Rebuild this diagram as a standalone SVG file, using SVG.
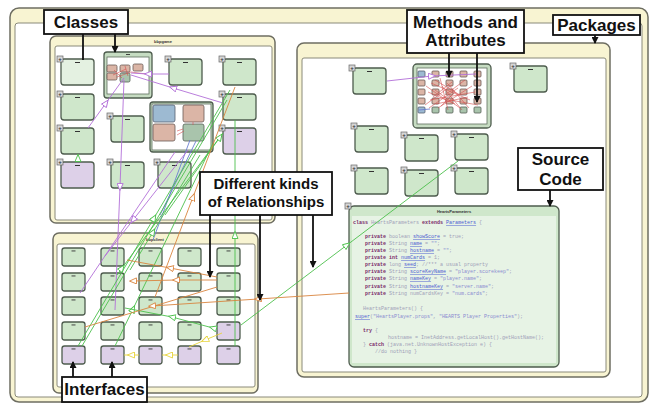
<svg xmlns="http://www.w3.org/2000/svg" width="654" height="407" viewBox="0 0 654 407">
<defs>
<style>
.band{fill:#f8f4d2;stroke:#6e6e62;stroke-width:1.5}
.inner{fill:#fff;stroke:#8a8a7a;stroke-width:1}
.n{fill:#cfe7cb;stroke:#4e5c4e;stroke-width:1.3}
.np{fill:#ddd0e8;stroke:#4e5c4e;stroke-width:1.3}
.nl{fill:#e4f1e1;stroke:#4e5c4e;stroke-width:1.3}
.cf{fill:#c6dcc2;stroke:#4e5c4e;stroke-width:1.3}
.ci{fill:#fff;stroke:#5e6e5e;stroke-width:0.8}
.sp{fill:#dbb5a6;stroke:#6a5a55;stroke-width:0.8}
.sb{fill:#9dbad2;stroke:#556070;stroke-width:0.8}
.sg{fill:#a9c4ac;stroke:#556055;stroke-width:0.8}
.pb{fill:#d6d6d6;stroke:#666;stroke-width:0.7}
.pt{font:bold 6px 'Liberation Sans',Arial,sans-serif;fill:#333;text-anchor:middle}
.mk{fill:#333}
.tt{font:bold 4px 'Liberation Sans',Arial,sans-serif;fill:#333;text-anchor:middle}
.cb{fill:#fff;stroke:#111;stroke-width:1.8}
.ct{font:bold 17px 'Liberation Sans',Arial,sans-serif;fill:#111;text-anchor:middle}
.ca{stroke:#111;stroke-width:1.8;fill:none;marker-end:url(#ah)}
.c{fill:none;stroke-width:0.9}
.pu{stroke:#b26fd8;marker-mid:url(#tpu)}
.bl{stroke:#6b7fd0}
.gr{stroke:#4cc04c;marker-mid:url(#tgr)}
.or{stroke:#d9843e;marker-mid:url(#tor)}
.ye{stroke:#e6d33c;marker-mid:url(#tye)}
.rd{fill:none;stroke:#d45050;stroke-width:0.6}
.code{font:5px 'Liberation Mono','Courier New',monospace;fill:#a0a0b8}
.kw{fill:#7a2a6a;font-weight:bold}
.ln{fill:#4a5ad0;text-decoration:underline}
.str{fill:#8a8ad0}
</style>
<marker id="ah" viewBox="0 0 7 7" refX="6" refY="3.5" markerWidth="7" markerHeight="7" markerUnits="userSpaceOnUse" orient="auto"><path d="M0,0 L7,3.5 L0,7 z" fill="#111"/></marker>
<marker id="tpu" viewBox="0 0 8 7" refX="4" refY="3.5" markerWidth="8" markerHeight="7" markerUnits="userSpaceOnUse" orient="auto"><path d="M0.5,0.5 L7.5,3.5 L0.5,6.5 z" fill="#fff" stroke="#b26fd8" stroke-width="0.9"/></marker>
<marker id="tgr" viewBox="0 0 8 7" refX="4" refY="3.5" markerWidth="8" markerHeight="7" markerUnits="userSpaceOnUse" orient="auto"><path d="M0.5,0.5 L7.5,3.5 L0.5,6.5 z" fill="#fff" stroke="#4cc04c" stroke-width="0.9"/></marker>
<marker id="tor" viewBox="0 0 8 7" refX="4" refY="3.5" markerWidth="8" markerHeight="7" markerUnits="userSpaceOnUse" orient="auto"><path d="M0.5,0.5 L7.5,3.5 L0.5,6.5 z" fill="#fff" stroke="#d9843e" stroke-width="0.9"/></marker>
<marker id="tye" viewBox="0 0 8 7" refX="4" refY="3.5" markerWidth="8" markerHeight="7" markerUnits="userSpaceOnUse" orient="auto"><path d="M0.5,0.5 L7.5,3.5 L0.5,6.5 z" fill="#fff" stroke="#e6d33c" stroke-width="0.9"/></marker>
</defs>
<rect width="654" height="407" fill="#fff"/>

<g id="frame">
<rect class="band" x="10" y="8" width="638" height="394" rx="9"/>
<rect class="inner" x="15" y="23" width="627" height="374" rx="3"/>
</g>

<g id="pkg-top-left">
<rect class="band" x="50" y="36" width="225" height="187" rx="6"/>
<rect class="inner" x="55" y="46" width="217" height="174" rx="2"/>
<text class="tt" x="163" y="43">bbpgame</text>
</g>
<g id="pkg-bottom-left">
<rect class="band" x="53" y="233" width="205" height="160" rx="6"/>
<rect class="inner" x="57" y="244" width="198" height="143" rx="2"/>
<text class="tt" x="155" y="241">bbpclient</text>
</g>
<g id="pkg-right">
<rect class="band" x="297" y="43" width="313" height="334" rx="7"/>
<rect class="inner" x="302" y="58" width="304" height="314" rx="2"/>
</g>

<!-- top-left package nodes -->
<g id="node-a"><rect class="nl" x="61" y="59" width="33" height="26" rx="3"/><rect class="mk" x="75" y="62" width="5" height="1"/><rect class="pb" x="57" y="56" width="6" height="6"/><text class="pt" x="60" y="61">+</text></g>
<g id="node-c"><rect class="n" x="169" y="59" width="33" height="26" rx="3"/><rect class="mk" x="183" y="62" width="5" height="1"/><rect class="pb" x="165" y="56" width="6" height="6"/><text class="pt" x="168" y="61">+</text></g>
<g id="node-d"><rect class="n" x="223" y="59" width="33" height="26" rx="3"/><rect class="mk" x="237" y="62" width="5" height="1"/><rect class="pb" x="219" y="56" width="6" height="6"/><text class="pt" x="222" y="61">+</text></g>
<g id="node-e"><rect class="n" x="61" y="94" width="33" height="26" rx="3"/><rect class="mk" x="75" y="97" width="5" height="1"/><rect class="pb" x="57" y="91" width="6" height="6"/><text class="pt" x="60" y="96">+</text></g>
<g id="node-f"><rect class="n" x="111" y="116" width="33" height="26" rx="3"/><rect class="mk" x="125" y="119" width="5" height="1"/><rect class="pb" x="107" y="113" width="6" height="6"/><text class="pt" x="110" y="118">+</text></g>
<g id="node-h"><rect class="n" x="223" y="94" width="33" height="26" rx="3"/><rect class="mk" x="237" y="97" width="5" height="1"/><rect class="pb" x="219" y="91" width="6" height="6"/><text class="pt" x="222" y="96">+</text></g>
<g id="node-i"><rect class="n" x="61" y="128" width="33" height="26" rx="3"/><rect class="mk" x="75" y="131" width="5" height="1"/><rect class="pb" x="57" y="125" width="6" height="6"/><text class="pt" x="60" y="130">+</text></g>
<g id="node-j"><rect class="np" x="223" y="128" width="33" height="26" rx="3"/><rect class="mk" x="237" y="131" width="5" height="1"/><rect class="pb" x="219" y="125" width="6" height="6"/><text class="pt" x="222" y="130">+</text></g>
<g id="node-k"><rect class="np" x="61" y="162" width="33" height="26" rx="3"/><rect class="mk" x="75" y="165" width="5" height="1"/><rect class="pb" x="57" y="159" width="6" height="6"/><text class="pt" x="60" y="164">+</text></g>
<g id="node-l"><rect class="n" x="111" y="162" width="33" height="26" rx="3"/><rect class="mk" x="125" y="165" width="5" height="1"/><rect class="pb" x="107" y="159" width="6" height="6"/><text class="pt" x="110" y="164">+</text></g>
<g id="node-m"><rect class="n" x="158" y="162" width="33" height="26" rx="3"/><rect class="mk" x="172" y="165" width="5" height="1"/><rect class="pb" x="154" y="159" width="6" height="6"/><text class="pt" x="157" y="164">+</text></g>
<g id="node-b">
<rect class="cf" x="104" y="52" width="48" height="46" rx="3"/><rect class="ci" x="107" y="57" width="42" height="37"/><rect class="mk" x="126" y="54" width="4" height="0.9"/>
<rect class="sp" x="107" y="65" width="10" height="7" rx="1.5"/><rect class="sp" x="120" y="65" width="10" height="7" rx="1.5"/><rect class="sp" x="133" y="64" width="10" height="7" rx="1.5"/>
<rect class="sp" x="107" y="73" width="10" height="7" rx="1.5"/><rect class="sg" x="120" y="73" width="10" height="9" rx="1.5"/>
</g>
<g id="node-g">
<rect class="cf" x="150" y="102" width="63" height="50" rx="3"/><rect class="ci" x="152" y="104" width="59" height="46"/>
<rect class="sb" x="153" y="105" width="22" height="17" rx="2"/><rect class="sp" x="183" y="105" width="21" height="17" rx="2"/>
<rect class="sp" x="153" y="124" width="22" height="17" rx="2"/><rect class="sg" x="183" y="124" width="21" height="17" rx="2"/>
</g>

<!-- bottom-left package nodes -->
<g id="b11"><rect class="n" x="62" y="248" width="23" height="18" rx="2.5"/><rect class="mk" x="71.5" y="250.5" width="4" height="0.9"/></g>
<g id="b12"><rect class="n" x="101" y="248" width="23" height="18" rx="2.5"/><rect class="mk" x="110.5" y="250.5" width="4" height="0.9"/></g>
<g id="b13"><rect class="n" x="139" y="248" width="23" height="18" rx="2.5"/><rect class="mk" x="148.5" y="250.5" width="4" height="0.9"/></g>
<g id="b14"><rect class="n" x="178" y="248" width="23" height="18" rx="2.5"/><rect class="mk" x="187.5" y="250.5" width="4" height="0.9"/></g>
<g id="b15"><rect class="n" x="217" y="248" width="23" height="18" rx="2.5"/><rect class="mk" x="226.5" y="250.5" width="4" height="0.9"/></g>
<g id="b21"><rect class="n" x="62" y="273" width="23" height="18" rx="2.5"/><rect class="mk" x="71.5" y="275.5" width="4" height="0.9"/></g>
<g id="b22"><rect class="n" x="101" y="273" width="23" height="18" rx="2.5"/><rect class="mk" x="110.5" y="275.5" width="4" height="0.9"/></g>
<g id="b23"><rect class="n" x="139" y="273" width="23" height="18" rx="2.5"/><rect class="mk" x="148.5" y="275.5" width="4" height="0.9"/></g>
<g id="b24"><rect class="n" x="178" y="273" width="23" height="18" rx="2.5"/><rect class="mk" x="187.5" y="275.5" width="4" height="0.9"/></g>
<g id="b25"><rect class="n" x="217" y="273" width="23" height="18" rx="2.5"/><rect class="mk" x="226.5" y="275.5" width="4" height="0.9"/></g>
<g id="b31"><rect class="n" x="62" y="297" width="23" height="18" rx="2.5"/><rect class="mk" x="71.5" y="299.5" width="4" height="0.9"/></g>
<g id="b32"><rect class="n" x="101" y="297" width="23" height="18" rx="2.5"/><rect class="mk" x="110.5" y="299.5" width="4" height="0.9"/></g>
<g id="b33"><rect class="n" x="139" y="297" width="23" height="18" rx="2.5"/><rect class="mk" x="148.5" y="299.5" width="4" height="0.9"/></g>
<g id="b34"><rect class="n" x="178" y="297" width="23" height="18" rx="2.5"/><rect class="mk" x="187.5" y="299.5" width="4" height="0.9"/></g>
<g id="b35"><rect class="n" x="217" y="297" width="23" height="18" rx="2.5"/><rect class="mk" x="226.5" y="299.5" width="4" height="0.9"/></g>
<g id="b41"><rect class="n" x="62" y="322" width="23" height="18" rx="2.5"/><rect class="mk" x="71.5" y="324.5" width="4" height="0.9"/></g>
<g id="b42"><rect class="n" x="101" y="322" width="23" height="18" rx="2.5"/><rect class="mk" x="110.5" y="324.5" width="4" height="0.9"/></g>
<g id="b43"><rect class="n" x="139" y="322" width="23" height="18" rx="2.5"/><rect class="mk" x="148.5" y="324.5" width="4" height="0.9"/></g>
<g id="b44"><rect class="n" x="178" y="322" width="23" height="18" rx="2.5"/><rect class="mk" x="187.5" y="324.5" width="4" height="0.9"/></g>
<g id="b45"><rect class="np" x="217" y="322" width="23" height="18" rx="2.5"/><rect class="mk" x="226.5" y="324.5" width="4" height="0.9"/></g>
<g id="b51"><rect class="np" x="62" y="346" width="23" height="18" rx="2.5"/><rect class="mk" x="71.5" y="348.5" width="4" height="0.9"/></g>
<g id="b52"><rect class="np" x="101" y="346" width="23" height="18" rx="2.5"/><rect class="mk" x="110.5" y="348.5" width="4" height="0.9"/></g>
<g id="b53"><rect class="np" x="139" y="346" width="23" height="18" rx="2.5"/><rect class="mk" x="148.5" y="348.5" width="4" height="0.9"/></g>
<g id="b54"><rect class="np" x="178" y="346" width="23" height="18" rx="2.5"/><rect class="mk" x="187.5" y="348.5" width="4" height="0.9"/></g>
<g id="b55"><rect class="np" x="217" y="346" width="23" height="18" rx="2.5"/><rect class="mk" x="226.5" y="348.5" width="4" height="0.9"/></g>

<!-- right package nodes -->
<g id="node-r1"><rect class="n" x="353" y="68" width="33" height="26" rx="3"/><rect class="mk" x="367" y="71" width="5" height="1"/><rect class="pb" x="349" y="65" width="6" height="6"/><text class="pt" x="352" y="70">+</text></g>
<g id="node-r3"><rect class="n" x="514" y="66" width="33" height="26" rx="3"/><rect class="mk" x="528" y="69" width="5" height="1"/><rect class="pb" x="510" y="63" width="6" height="6"/><text class="pt" x="513" y="68">+</text></g>
<g id="node-r4"><rect class="n" x="355" y="126" width="33" height="26" rx="3"/><rect class="mk" x="369" y="129" width="5" height="1"/><rect class="pb" x="351" y="123" width="6" height="6"/><text class="pt" x="354" y="128">+</text></g>
<g id="node-r5"><rect class="n" x="405" y="135" width="33" height="26" rx="3"/><rect class="mk" x="419" y="138" width="5" height="1"/><rect class="pb" x="401" y="132" width="6" height="6"/><text class="pt" x="404" y="137">+</text></g>
<g id="node-r6"><rect class="n" x="455" y="134" width="33" height="26" rx="3"/><rect class="mk" x="469" y="137" width="5" height="1"/><rect class="pb" x="451" y="131" width="6" height="6"/><text class="pt" x="454" y="136">+</text></g>
<g id="node-r7"><rect class="n" x="355" y="168" width="33" height="26" rx="3"/><rect class="mk" x="369" y="171" width="5" height="1"/><rect class="pb" x="351" y="165" width="6" height="6"/><text class="pt" x="354" y="170">+</text></g>
<g id="node-r8"><rect class="n" x="405" y="170" width="33" height="26" rx="3"/><rect class="mk" x="419" y="173" width="5" height="1"/><rect class="pb" x="401" y="167" width="6" height="6"/><text class="pt" x="404" y="172">+</text></g>
<g id="node-r9"><rect class="n" x="455" y="168" width="33" height="26" rx="3"/><rect class="mk" x="469" y="171" width="5" height="1"/><rect class="pb" x="451" y="165" width="6" height="6"/><text class="pt" x="454" y="170">+</text></g>
<g id="node-r2">
<rect class="cf" x="413" y="64" width="78" height="64" rx="4"/><rect class="ci" x="417" y="68" width="70" height="56"/>
<rect class="sb" x="418" y="71" width="7" height="6" rx="1"/><rect class="sp" x="432" y="71" width="7" height="6" rx="1"/><rect class="sp" x="446" y="71" width="7" height="6" rx="1"/><rect class="sp" x="460" y="71" width="7" height="6" rx="1"/><rect class="sp" x="474" y="71" width="7" height="6" rx="1"/>
<rect class="sp" x="418" y="80" width="7" height="6" rx="1"/><rect class="sp" x="432" y="80" width="7" height="6" rx="1"/><rect class="sp" x="446" y="80" width="7" height="6" rx="1"/><rect class="sp" x="460" y="80" width="7" height="6" rx="1"/><rect class="sp" x="474" y="80" width="7" height="6" rx="1"/>
<rect class="sp" x="418" y="89" width="7" height="6" rx="1"/><rect class="sp" x="432" y="89" width="7" height="6" rx="1"/><rect class="sp" x="446" y="89" width="7" height="6" rx="1"/><rect class="sp" x="460" y="89" width="7" height="6" rx="1"/><rect class="sp" x="474" y="89" width="7" height="6" rx="1"/>
<rect class="sp" x="418" y="98" width="7" height="6" rx="1"/><rect class="sp" x="432" y="98" width="7" height="6" rx="1"/><rect class="sp" x="446" y="98" width="7" height="6" rx="1"/><rect class="sp" x="460" y="98" width="7" height="6" rx="1"/><rect class="sp" x="474" y="98" width="7" height="6" rx="1"/>
<rect class="sb" x="418" y="107" width="7" height="6" rx="1"/><rect class="sg" x="432" y="107" width="7" height="6" rx="1"/><rect class="sg" x="446" y="107" width="7" height="6" rx="1"/><rect class="sg" x="460" y="107" width="7" height="6" rx="1"/><rect class="sg" x="474" y="107" width="7" height="6" rx="1"/>
</g>
<g id="node-source">
<rect class="n" x="349" y="206" width="210" height="161" rx="5"/>
<rect x="352" y="216" width="204" height="147" fill="#e7f3e5"/>
<text class="tt" x="454" y="213">HeartsParameters</text>
<rect class="pb" x="345" y="203" width="6" height="6"/><text class="pt" x="348" y="208">+</text>
<g class="code">
<text x="353" y="224"><tspan class="kw">class</tspan> HeartsParameters <tspan class="kw">extends</tspan> <tspan class="ln">Parameters</tspan> {</text>
<text x="365" y="238"><tspan class="kw">private</tspan> boolean <tspan class="ln">showScore</tspan> = true;</text>
<text x="365" y="245"><tspan class="kw">private</tspan> String <tspan class="ln">name</tspan> = <tspan class="str">""</tspan>;</text>
<text x="365" y="252"><tspan class="kw">private</tspan> String <tspan class="ln">hostname</tspan> = <tspan class="str">""</tspan>;</text>
<text x="365" y="259"><tspan class="kw">private</tspan> <tspan class="kw">int</tspan> <tspan class="ln">numCards</tspan> = 1;</text>
<text x="365" y="266"><tspan class="kw">private</tspan> long <tspan class="ln">seed</tspan>; //*** a usual property</text>
<text x="365" y="273"><tspan class="kw">private</tspan> String <tspan class="ln">scoreKeyName</tspan> = <tspan class="str">"player.scorekeep"</tspan>;</text>
<text x="365" y="280"><tspan class="kw">private</tspan> String <tspan class="ln">nameKey</tspan> = <tspan class="str">"player.name"</tspan>;</text>
<text x="365" y="288"><tspan class="kw">private</tspan> String <tspan class="ln">hostnameKey</tspan> = <tspan class="str">"server.name"</tspan>;</text>
<text x="365" y="295"><tspan class="kw">private</tspan> String numCardsKey = <tspan class="str">"num.cards"</tspan>;</text>
<text x="363" y="310">HeartsParameters() {</text>
<text x="355" y="318"><tspan class="ln">super</tspan>(<tspan class="str">"HeartsPlayer.props"</tspan>, <tspan class="str">"HEARTS Player Properties"</tspan>);</text>
<text x="363" y="332"><tspan class="kw">try</tspan> {</text>
<text x="388" y="339">hostname = InetAddress.getLocalHost().getHostName();</text>
<text x="363" y="346">} <tspan class="kw">catch</tspan> (java.net.UnknownHostException e) {</text>
<text x="375" y="353">//do nothing }</text>
</g>
</g>

<g id="connectors">
<path class="rd" d="M113,75 L126,69 M117,77 L131,72 M125,66 L128,76 M131,72 L146,74 M114,70 L122,78 M177,131 L183,129 M177,135 L184,131 M193,122 L193,125"/>
<path class="rd" d="M431,83 L470,100 M435,90 L460,108 M440,78 L448,110 M452,85 L425,105 M430,100 L475,92 M445,95 L465,80 M438,108 L472,86 M428,92 L455,104 M460,95 L435,80 M450,100 L478,105 M442,86 L462,110 M433,97 L452,82 M436,104 L468,97 M426,86 L446,100 M455,92 L441,106 M447,83 L469,108 M429,108 L458,88"/>
<path class="c bl" d="M190,140 L153,240 M196,141 L160,215 M419,110 L430,109"/>
<path class="c pu" d="M169,74 L148,74 L131,73"/>
<path class="c pu" d="M223,103 L173,88 L131,75"/>
<path class="c pu" d="M88,128 L106,103 L124,78"/>
<path class="c pu" d="M124,80 L120,187 L115,310"/>
<path class="c pu" d="M175,152 L80,293"/>
<path class="c pu" d="M188,150 L133,220 L105,256"/>
<path class="c pu" d="M387,81 L432,76 L476,74"/>
<path class="c gr" d="M235,346 L235,235 L235,120"/>
<path class="c gr" d="M78,346 L154,218 L230,90"/>
<path class="c gr" d="M82,346 L227,100"/>
<path class="c gr" d="M117,275 L122,268 L223,133"/>
<path class="c gr" d="M115,346 L133,309 L213,143"/>
<path class="c gr" d="M130,270 L153,232 L200,155"/>
<path class="c gr" d="M213,328 L172,317 L125,308" marker-start="url(#tgr)"/>
<path class="c gr" d="M241,325 L347,245 L458,161"/>
<path class="c gr" d="M78,162 L78,158 L78,154"/>
<path class="c gr" d="M165,215 L220,137 L222,134"/>
<path class="c or" d="M155,297 L193,197 L235,87"/>
<path class="c or" d="M217,277 L170,268 L127,260"/>
<path class="c or" d="M217,280 L176,280 L133,281" marker-end="url(#tor)"/>
<path class="c or" d="M217,287 L85,327"/>
<path class="c or" d="M349,293 L258,299 L152,306" marker-end="url(#tor)"/>
<path class="c ye" d="M139,355 L131,355 L124,355"/>
<path class="c ye" d="M178,355 L169,355 L162,355"/>
<path class="c ye" d="M222,333 L205,340 L189,347"/>
</g>

<g id="label-classes">
<rect class="cb" x="44" y="10" width="84" height="24"/>
<text class="ct" x="86" y="28">Classes</text>
<path class="ca" d="M83,34 L83,60 M115,34 L115,52"/>
</g>
<g id="label-methods">
<rect class="cb" x="407" y="10" width="117" height="43"/>
<text class="ct" x="465.5" y="28">Methods and</text>
<text class="ct" x="465.5" y="46">Attributes</text>
<path class="ca" d="M449,53 L449,77"/>
<path class="ca" d="M477,53 L477,102"/>
</g>
<g id="label-packages">
<rect class="cb" x="553" y="15" width="87" height="20"/>
<text class="ct" x="596.5" y="31">Packages</text>
<path class="ca" d="M595,35 L595,43"/>
</g>
<g id="label-source">
<rect class="cb" x="518" y="148" width="85" height="42"/>
<text class="ct" x="560.5" y="165">Source</text>
<text class="ct" x="560.5" y="185">Code</text>
<path class="ca" d="M550,190 L550,206"/>
</g>
<g id="label-relationships">
<rect class="cb" x="200" y="172" width="132" height="43"/>
<text class="ct" x="266" y="189" style="font-size:15px">Different kinds</text>
<text class="ct" x="266" y="207" style="font-size:15px">of Relationships</text>
<path class="ca" d="M210,215 L210,277"/>
<path class="ca" d="M260,215 L260,300"/>
<path class="ca" d="M313,215 L313,267"/>
</g>
<g id="label-interfaces">
<rect class="cb" x="62" y="377" width="85" height="25"/>
<text class="ct" x="104.5" y="395">Interfaces</text>
<path class="ca" d="M73,377 L73,362"/>
<path class="ca" d="M112,377 L112,362"/>
</g>
</svg>
